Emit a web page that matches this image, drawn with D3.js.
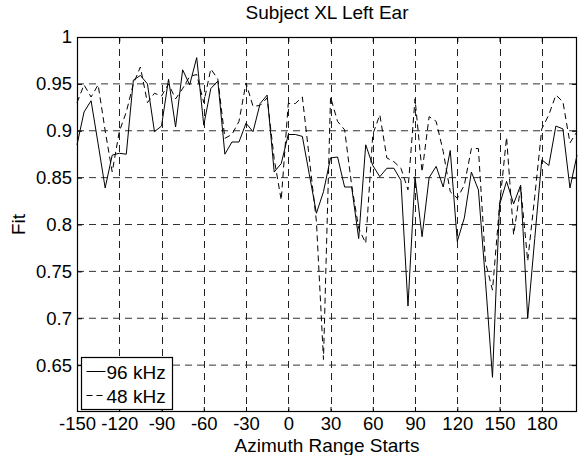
<!DOCTYPE html>
<html>
<head>
<meta charset="utf-8">
<script src="https://cdn.jsdelivr.net/npm/d3@7"></script>
<style>
    body { margin: 0; background: #fff; }
    text { font-family: "Liberation Sans", Arial, Helvetica, sans-serif; fill: #000; }
</style>
</head>
<body>
<div class="fitChartDiv"></div>
<script>
"use strict"

//
/* Data */
//
var azimuths = [-150, -145, -140, -135, -130, -125, -120, -115, -110, -105,
                -100, -95, -90, -85, -80, -75, -70, -65, -60, -55,
                -50, -45, -40, -35, -30, -25, -20, -15, -10, -5,
                0, 5, 10, 15, 20, 25, 30, 35, 40, 45,
                50, 55, 60, 65, 70, 75, 80, 85, 90, 95,
                100, 105, 110, 115, 120, 125, 130, 135, 140, 145,
                150, 155, 160, 165, 170, 175, 180, 185, 190, 195,
                200, 205];

var fit96 = [0.885, 0.920, 0.932, 0.886, 0.839, 0.874, 0.876, 0.875, 0.954, 0.959,
             0.950, 0.899, 0.905, 0.955, 0.904, 0.965, 0.949, 0.978, 0.906, 0.945,
             0.953, 0.875, 0.888, 0.888, 0.908, 0.899, 0.929, 0.938, 0.856, 0.865,
             0.896, 0.896, 0.894, 0.853, 0.812, 0.835, 0.871, 0.872, 0.840, 0.840,
             0.785, 0.885, 0.863, 0.851, 0.860, 0.860, 0.847, 0.713, 0.851, 0.787,
             0.850, 0.862, 0.840, 0.879, 0.782, 0.807, 0.856, 0.837, 0.740, 0.637,
             0.821, 0.846, 0.822, 0.842, 0.700, 0.785, 0.869, 0.863, 0.905, 0.902,
             0.839, 0.874];

var fit48 = [0.930, 0.949, 0.936, 0.949, 0.900, 0.856, 0.899, 0.920, 0.950, 0.968,
             0.930, 0.940, 0.937, 0.950, 0.934, 0.945, 0.958, 0.960, 0.930, 0.966,
             0.955, 0.892, 0.896, 0.910, 0.951, 0.926, 0.927, 0.935, 0.870, 0.826,
             0.929, 0.929, 0.936, 0.870, 0.803, 0.656, 0.936, 0.910, 0.901, 0.842,
             0.796, 0.780, 0.896, 0.917, 0.871, 0.867, 0.860, 0.837, 0.934, 0.856,
             0.915, 0.910, 0.878, 0.835, 0.828, 0.842, 0.881, 0.881, 0.760, 0.730,
             0.820, 0.893, 0.789, 0.840, 0.761, 0.830, 0.902, 0.917, 0.938, 0.931,
             0.887, 0.899];

var xTicks = [-150, -120, -90, -60, -30, 0, 30, 60, 90, 120, 150, 180];
var xTickLabels = ["-150", "-120", "-90", "-60", "-30", "0", "30", "60", "90", "120", "150", "180"];
var yTicks = [0.65, 0.7, 0.75, 0.8, 0.85, 0.9, 0.95, 1];
var yTickLabels = ["0.65", "0.7", "0.75", "0.8", "0.85", "0.9", "0.95", "1"];

var seriesNames = ["96 kHz", "48 kHz"];
var seriesDash = [null, "6,4"];

var titleText = "Subject XL Left Ear";
var xLabelText = "Azimuth Range Starts";
var yLabelText = "Fit";

//
/* Layout */
//
var width = 580;
var height = 455;
var margin = {left: 77, right: 3, top: 37, bottom: 43};
var plotW = width - margin.left - margin.right;
var plotH = height - margin.top - margin.bottom;
var fontSize = 19;
var tickFont = 18.5;
var tickLen = 5;

var svg = d3.select(".fitChartDiv").append("svg")
                .attr("width", width)
                .attr("height", height);

var g = svg.append("g")
                .attr("transform", "translate(" + margin.left + "," + margin.top + ")");

var x = d3.scaleLinear().domain([-150, 205]).range([0, plotW]);
var y = d3.scaleLinear().domain([0.6, 1]).range([plotH, 0]);

// grid
g.append("g").selectAll("line")
    .data(xTicks.slice(1))
    .enter().append("line")
    .attr("x1", function(d) { return Math.round(x(d)) + 0.5 })
    .attr("x2", function(d) { return Math.round(x(d)) + 0.5 })
    .attr("y1", 0)
    .attr("y2", plotH)
    .attr("stroke", "#222")
    .attr("stroke-width", 1)
    .attr("stroke-dasharray", "7,5");

g.append("g").selectAll("line")
    .data(yTicks.slice(0, -1))
    .enter().append("line")
    .attr("x1", 0)
    .attr("x2", plotW)
    .attr("y1", function(d) { return y(d) })
    .attr("y2", function(d) { return y(d) })
    .attr("stroke", "#333")
    .attr("stroke-width", 1)
    .attr("stroke-dasharray", "7,5");

// data lines
var line = d3.line()
    .x(function(d, i) { return x(azimuths[i]) })
    .y(function(d) { return y(d) });

[fit96, fit48].forEach(function(series, s)
{
    g.append("path")
        .datum(series)
        .attr("d", line)
        .attr("fill", "none")
        .attr("stroke", "#000")
        .attr("stroke-width", 1)
        .attr("stroke-dasharray", seriesDash[s]);
});

// axes (ticks pointing inward, box all round)
var xAxisBottom = d3.axisBottom(x).tickValues(xTicks).tickSizeInner(-tickLen).tickSizeOuter(0).tickPadding(5)
                    .tickFormat(function(d, i) { return xTickLabels[i] });
var xAxisTop = d3.axisTop(x).tickValues(xTicks).tickSizeInner(-tickLen).tickSizeOuter(0).tickFormat("");
var yAxisLeft = d3.axisLeft(y).tickValues(yTicks).tickSizeInner(-tickLen).tickSizeOuter(0).tickPadding(5)
                    .tickFormat(function(d, i) { return yTickLabels[i] });
var yAxisRight = d3.axisRight(y).tickValues(yTicks).tickSizeInner(-tickLen).tickSizeOuter(0).tickFormat("");

function styleAxis(sel)
{
    sel.select(".domain").remove();
    sel.selectAll("line").attr("stroke", "#000");
    sel.selectAll("text").attr("font-size", tickFont).attr("font-family", null).attr("fill", "#000");
}

g.append("g").attr("transform", "translate(0," + plotH + ")").call(xAxisBottom).call(styleAxis);
g.append("g").call(xAxisTop).call(styleAxis);
g.append("g").call(yAxisLeft).call(styleAxis);
g.append("g").attr("transform", "translate(" + plotW + ",0)").call(yAxisRight).call(styleAxis);

g.append("rect")
    .attr("x", 0.5)
    .attr("y", 0.5)
    .attr("width", plotW - 1)
    .attr("height", plotH - 1)
    .attr("fill", "none")
    .attr("stroke", "#000")
    .attr("stroke-width", 1.2);

// titles
svg.append("text")
    .attr("x", margin.left + plotW / 2)
    .attr("y", 19)
    .attr("text-anchor", "middle")
    .attr("font-size", fontSize)
    .text(titleText);

svg.append("text")
    .attr("x", margin.left + plotW / 2)
    .attr("y", 451.5)
    .attr("text-anchor", "middle")
    .attr("font-size", fontSize)
    .text(xLabelText);

svg.append("text")
    .attr("transform", "translate(25," + (margin.top + plotH / 2) + ") rotate(-90)")
    .attr("text-anchor", "middle")
    .attr("font-size", fontSize)
    .text(yLabelText);

// legend
var legend = svg.append("g").attr("transform", "translate(81.5,357.5)");

legend.append("rect")
    .attr("width", 91)
    .attr("height", 52)
    .attr("fill", "#fff")
    .attr("stroke", "#000")
    .attr("stroke-width", 1.2);

seriesNames.forEach(function(name, i)
{
    var ly = 14 + i * 24;
    legend.append("line")
        .attr("x1", 5)
        .attr("x2", 24)
        .attr("y1", ly)
        .attr("y2", ly)
        .attr("stroke", "#000")
        .attr("stroke-width", 1)
        .attr("stroke-dasharray", seriesDash[i]);

    legend.append("text")
        .attr("x", 25)
        .attr("y", ly + 7)
        .attr("font-size", fontSize)
        .text(name);
});
</script>
</body>
</html>
